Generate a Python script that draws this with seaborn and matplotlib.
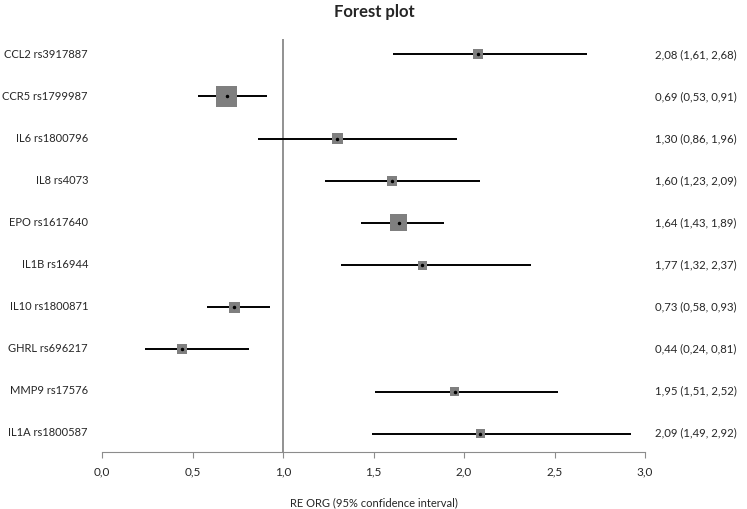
import numpy as np
import pandas as pd
import matplotlib
matplotlib.use('Agg')
import matplotlib.pyplot as plt
import seaborn as sns

# dane
labels = ['CCL2 rs3917887', 'CCR5 rs1799987', 'IL6 rs1800796', 'IL8 rs4073',
          'EPO rs1617640', 'IL1B rs16944', 'IL10 rs1800871', 'GHRL rs696217',
          'MMP9 rs17576', 'IL1A rs1800587']
est = [2.08, 0.69, 1.30, 1.60, 1.64, 1.77, 0.73, 0.44, 1.95, 2.09]
lo = [1.61, 0.53, 0.86, 1.23, 1.43, 1.32, 0.58, 0.24, 1.51, 1.49]
hi = [2.68, 0.91, 1.96, 2.09, 1.89, 2.37, 0.93, 0.81, 2.52, 2.92]
# wielkosc kwadratu (waga badania)
weights = [10, 21, 11, 10, 17, 9, 11, 10, 9, 9]
xticks = [0.0, 0.5, 1.0, 1.5, 2.0, 2.5, 3.0]

df = pd.DataFrame({'label': labels, 'est': est, 'lo': lo, 'hi': hi, 'w': weights})

sns.set_style('white')
plt.rcParams['font.family'] = ['Lato', 'DejaVu Sans']

fig = plt.figure(figsize=(7.47, 5.10), dpi=100)
W, H = 747, 510
ax = fig.add_axes([102 / W, 1 - 453 / H, 543 / W, 413 / H])

ypos = np.arange(len(df))
ax.axvline(1.0, color='#7f7f7f', lw=1.2, zorder=1)
ax.hlines(ypos, df['lo'], df['hi'], color='black', lw=1.4, zorder=2)
sizes = {l: (w * 0.72) ** 2 for l, w in zip(labels, weights)}
sns.scatterplot(data=df, x='est', y='label', size='label', sizes=sizes,
                marker='s', color='#7f7f7f', edgecolor='none', legend=False,
                ax=ax, zorder=3)
ax.plot(df['est'], ypos, ls='none', marker='o', ms=1.5, color='black', zorder=4)

ax.set_xlim(0, 3)
ax.set_ylim(9.43, -0.36)
ax.set_xticks(xticks)
ax.set_xticklabels([f'{t:.1f}'.replace('.', ',') for t in xticks], fontsize=8.5)
ax.set_yticks([])
ax.set_ylabel('')
ax.set_xlabel('RE ORG (95% confidence interval)', fontsize=8, labelpad=14)
for s in ['top', 'right', 'left']:
    ax.spines[s].set_visible(False)
ax.spines['bottom'].set_color('#8c8c8c')
ax.tick_params(axis='x', bottom=True, direction='out', length=4, color='#8c8c8c', pad=6)

for i, row in df.iterrows():
    yf = 1 - (55 + 42 * i) / H
    fig.text(88 / W, yf, row['label'], ha='right', va='center', fontsize=8)
    txt = f"{row['est']:.2f} ({row['lo']:.2f}, {row['hi']:.2f})".replace('.', ',')
    fig.text(655 / W, yf, txt, ha='left', va='center', fontsize=8.2)

fig.text(374 / W, 1 - 12 / H, 'Forest plot', ha='center', va='center',
         fontsize=12, fontweight='bold')

fig.savefig('out.png', dpi=100)
